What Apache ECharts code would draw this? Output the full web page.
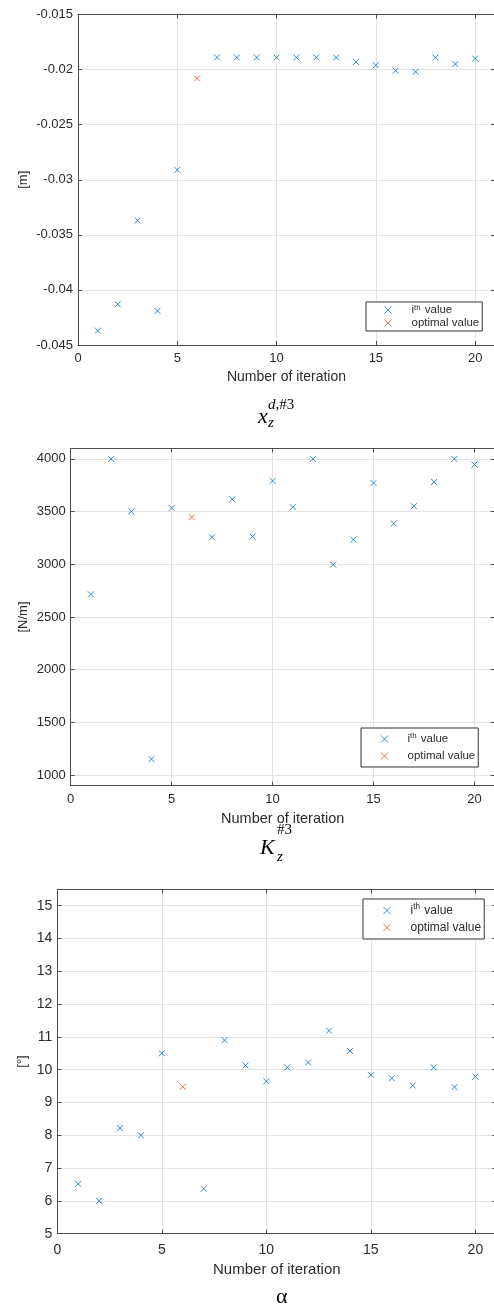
<!DOCTYPE html>
<html><head><meta charset="utf-8">
<script src="https://cdn.jsdelivr.net/npm/echarts@6/dist/echarts.min.js"></script>
<style>html,body{margin:0;padding:0;background:#fff}#c{width:494px;height:1307px}</style>
</head><body><div id="c"></div>
<script>
// ---- data ----
const iterations = [1,2,3,4,5,6,7,8,9,10,11,12,13,14,15,16,17,18,19,20];
const optimalIteration = 6;
const xzValues = [-0.0437,-0.0413,-0.0337,-0.0419,-0.0291,-0.0208,-0.0189,-0.0189,-0.0189,-0.0189,-0.0189,-0.0189,-0.0189,-0.0193,-0.0196,-0.0201,-0.0202,-0.0189,-0.0195,-0.0190];
const kzValues = [2715,4000,3500,1152,3535,3446,3256,3617,3263,3791,3541,4000,2997,3234,3772,3386,3551,3781,4000,3946];
const alphaValues = [6.52,6.00,8.22,8.00,10.50,9.48,6.37,10.90,10.13,9.65,10.07,10.22,11.19,10.57,9.84,9.74,9.52,10.07,9.47,9.79];
const xTicks = [0,5,10,15,20];
const xzTicks = [-0.045,-0.04,-0.035,-0.03,-0.025,-0.02,-0.015];
const kzTicks = [1000,1500,2000,2500,3000,3500,4000];
const alphaTicks = [5,6,7,8,9,10,11,12,13,14,15];
const seriesNames = ['ith value','optimal value'];
const xAxisTitle = 'Number of iteration';
const yUnits = ['[m]','[N/m]','[°]'];

// ---- style ----
const FONT = "'Liberation Sans', Arial, sans-serif";
const SERIF = "'Liberation Serif', 'Times New Roman', serif";
const BLUE = '#0072BD', ORANGE = '#D95319';
const AXIS = '#4d4d4d', GRIDC = '#e3e3e3', TXT = '#2b2b2b';
const CROSS = 'path://M0,0L10,10M10,0L0,10';

const grids = [
  {left: 78, top: 14.5, width: 417, height: 330.5, outerBoundsMode: 'none', containLabel: false},
  {left: 70.7, top: 448.3, width: 424, height: 337.4, outerBoundsMode: 'none', containLabel: false},
  {left: 57.3, top: 889.3, width: 439, height: 344.4, outerBoundsMode: 'none', containLabel: false}
];
const yRanges = [
  {min: -0.045, max: -0.015, interval: 0.005, ticks: xzTicks},
  {min: 900, max: 4100, ticks: kzTicks},
  {min: 5, max: 15.5, interval: 1, ticks: alphaTicks}
];
const tickFont = [13, 13, 14];
const nameFont = [14, 14.5, 15];
const xLabelMargin = [7, 7, 9];
const xNameGap = [25.5, 25.3, 29];
const yNameGap = [48, 40.7, 28.3];
const valuesList = [xzValues, kzValues, alphaValues];

const xAxes = [], yAxes = [], series = [];
const near = (a, b) => Math.abs(a - b) < 1e-9;
grids.forEach((g, i) => {
  const base = {gridIndex: i, type: 'value', min: 0, max: 21, interval: 5};
  xAxes.push(Object.assign({}, base, {
    position: 'bottom',
    axisLine: {show: true, onZero: false, lineStyle: {color: AXIS, width: 1}},
    axisTick: {show: true, inside: true, length: 4, lineStyle: {color: AXIS}},
    axisLabel: {show: true, fontSize: tickFont[i], color: TXT, fontFamily: FONT, margin: xLabelMargin[i],
      formatter: v => xTicks.some(t => near(t, v)) ? String(v) : ''},
    splitLine: {show: true, lineStyle: {color: GRIDC, width: 1}},
    name: xAxisTitle, nameLocation: 'middle', nameGap: xNameGap[i], nameMoveOverlap: false,
    nameTextStyle: {fontSize: nameFont[i], color: TXT, fontFamily: FONT}
  }));
  xAxes.push(Object.assign({}, base, {
    position: 'top',
    axisLine: {show: true, onZero: false, lineStyle: {color: AXIS, width: 1}},
    axisTick: {show: true, inside: true, length: 4, lineStyle: {color: AXIS}},
    axisLabel: {show: false}, splitLine: {show: false}
  }));
  const r = yRanges[i];
  const yb = {gridIndex: i, type: 'value', min: r.min, max: r.max};
  if (r.interval) yb.interval = r.interval; else yb.splitNumber = 6;
  const tickOpt = {show: true, inside: true, length: 4, lineStyle: {color: AXIS}};
  if (!r.interval) tickOpt.customValues = r.ticks;
  const labOpt = {show: true, fontSize: tickFont[i], color: TXT, fontFamily: FONT, margin: 5,
    formatter: v => r.ticks.some(t => near(t, v)) ? String(+v.toFixed(4)) : ''};
  if (!r.interval) labOpt.customValues = r.ticks;
  yAxes.push(Object.assign({}, yb, {
    position: 'left',
    axisLine: {show: true, onZero: false, lineStyle: {color: AXIS, width: 1}},
    axisTick: tickOpt, axisLabel: labOpt,
    splitLine: {show: true, lineStyle: {color: GRIDC, width: 1}},
    name: yUnits[i], nameLocation: 'middle', nameRotate: 90, nameGap: yNameGap[i], nameMoveOverlap: false,
    nameTextStyle: {fontSize: 13, color: TXT, fontFamily: FONT}
  }));
  yAxes.push(Object.assign({}, yb, {
    position: 'right',
    axisLine: {show: true, onZero: false, lineStyle: {color: AXIS, width: 1}},
    axisTick: Object.assign({}, tickOpt), axisLabel: {show: false}, splitLine: {show: false}
  }));
  const vals = valuesList[i];
  series.push({
    name: seriesNames[0], type: 'scatter', xAxisIndex: 2*i, yAxisIndex: 2*i,
    symbol: CROSS, symbolSize: 6,
    itemStyle: {color: 'rgba(0,0,0,0)', borderColor: BLUE, borderWidth: 1},
    data: iterations.map((it, k) => [it, vals[k]]).filter(p => p[0] !== optimalIteration)
  });
  series.push({
    name: seriesNames[1], type: 'scatter', xAxisIndex: 2*i, yAxisIndex: 2*i,
    symbol: CROSS, symbolSize: 6,
    itemStyle: {color: 'rgba(0,0,0,0)', borderColor: ORANGE, borderWidth: 1},
    data: iterations.map((it, k) => [it, vals[k]]).filter(p => p[0] === optimalIteration)
  });
});

const legendBoxes = [
  {left: 366, top: 302, pad: [2, 3, 2, 18], fs: 11.5, lh: 12, gap: 1, sp: 15},
  {left: 361, top: 728, pad: [4, 3, 4, 19.5], fs: 11.5, lh: 14, gap: 3, sp: 14.5},
  {left: 363, top: 899, pad: [4, 3, 4, 20], fs: 12, lh: 15, gap: 2, sp: 15}
];
const legends = legendBoxes.map(b => ({
  orient: 'vertical', left: b.left, top: b.top, padding: b.pad,
  itemWidth: 7, itemHeight: 7, itemGap: b.gap,
  backgroundColor: '#fff', borderColor: '#333', borderWidth: 1, borderRadius: 0,
  selectedMode: false,
  itemStyle: {borderWidth: 1},
  data: seriesNames.map(n => ({name: n, icon: CROSS})),
  formatter: n => n === seriesNames[0] ? '{g| }{t|i}{s|th}{t| value}' : '{g| }{t|optimal value}',
  textStyle: {
    fontFamily: FONT, color: TXT, fontSize: b.fs, lineHeight: b.lh,
    rich: {
      g: {width: b.sp, fontSize: b.fs, lineHeight: b.lh},
      t: {fontSize: b.fs, lineHeight: b.lh, fontFamily: FONT, color: TXT},
      s: {fontSize: b.fs * 0.68, lineHeight: b.lh, verticalAlign: 'top', fontFamily: FONT, color: TXT, padding: [0, 1, 0, 0]}
    }
  }
}));

const graphic = [
  {type: 'text', left: 258, top: 406, style: {text: 'x', font: 'italic 22px ' + SERIF, fill: '#000'}},
  {type: 'text', left: 268, top: 398, style: {text: '{i|d}{n|,#3}', font: '15px ' + SERIF, fill: '#000',
    rich: {i: {font: 'italic 15px ' + SERIF}, n: {font: '15px ' + SERIF}}}},
  {type: 'text', left: 268, top: 416, style: {text: 'z', font: 'italic 15px ' + SERIF, fill: '#000'}},
  {type: 'text', left: 260, top: 837, style: {text: 'K', font: 'italic 22px ' + SERIF, fill: '#000'}},
  {type: 'text', left: 277, top: 823, style: {text: '#3', font: '15px ' + SERIF, fill: '#000'}},
  {type: 'text', left: 277, top: 850, style: {text: 'z', font: 'italic 15px ' + SERIF, fill: '#000'}},
  {type: 'text', left: 276, top: 1286, style: {text: 'α', font: '22px ' + SERIF, fill: '#000'}}
];

const chart = echarts.init(document.getElementById('c'), null, {renderer: 'canvas'});
chart.setOption({
  animation: false,
  backgroundColor: '#fff',
  grid: grids,
  xAxis: xAxes,
  yAxis: yAxes,
  legend: legends,
  series: series,
  graphic: graphic
});
</script></body></html>
